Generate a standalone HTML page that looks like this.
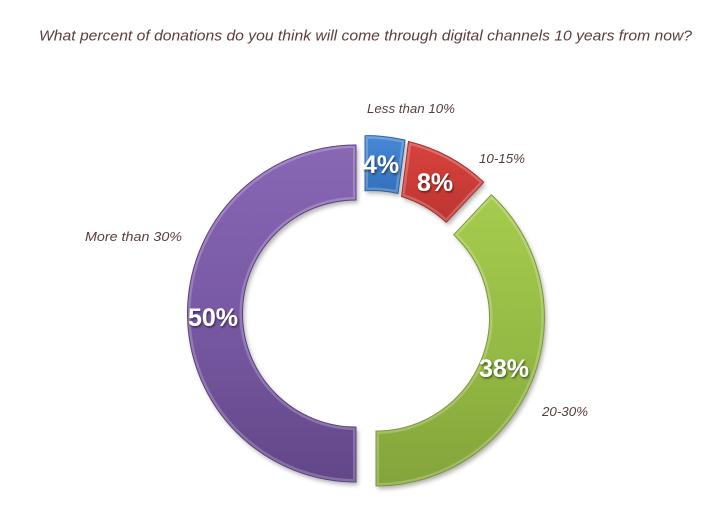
<!DOCTYPE html>
<html>
<head>
<meta charset="utf-8">
<style>
  html, body { margin:0; padding:0; background:#ffffff; }
  svg { display:block; }
</style>
</head>
<body>
<svg width="722" height="516" viewBox="0 0 722 516" xmlns="http://www.w3.org/2000/svg">
  <defs>
    <linearGradient id="gP" gradientUnits="userSpaceOnUse" x1="0" y1="145" x2="0" y2="482">
      <stop offset="0" stop-color="#8867b4"/>
      <stop offset="0.5" stop-color="#7859a4"/>
      <stop offset="1" stop-color="#624788"/>
    </linearGradient>
    <linearGradient id="gG" gradientUnits="userSpaceOnUse" x1="0" y1="195" x2="0" y2="486">
      <stop offset="0" stop-color="#a6cc4e"/>
      <stop offset="0.5" stop-color="#96bb45"/>
      <stop offset="1" stop-color="#83a43a"/>
    </linearGradient>
    <linearGradient id="gR" gradientUnits="userSpaceOnUse" x1="0" y1="141" x2="0" y2="222">
      <stop offset="0" stop-color="#d8443e"/>
      <stop offset="1" stop-color="#bc3430"/>
    </linearGradient>
    <linearGradient id="gB" gradientUnits="userSpaceOnUse" x1="0" y1="135" x2="0" y2="194">
      <stop offset="0" stop-color="#4888d6"/>
      <stop offset="1" stop-color="#3370bb"/>
    </linearGradient>
    <filter id="sh" x="-10%" y="-10%" width="130%" height="130%">
      <feDropShadow dx="2" dy="3" stdDeviation="2" flood-color="#000" flood-opacity="0.3"/>
    </filter>
    <filter id="ts" x="-20%" y="-20%" width="140%" height="140%">
      <feDropShadow dx="1" dy="1.5" stdDeviation="1" flood-color="#000" flood-opacity="0.55"/>
    </filter>
    <path id="pP" d="M356,482 A168.5,168.5 0 0 1 187.5,313.5 A168.5,168.5 0 0 1 356,145 L356,200 A113.5,113.5 0 0 0 242.5,313.5 A113.5,113.5 0 0 0 356,427 Z"/>
    <path id="pG" d="M491.3,194.7 A168.5,168.5 0 0 1 376,486 L376,431 A113.5,113.5 0 0 0 453.7,234.8 Z"/>
    <path id="pR" d="M408.5,141.5 A168.5,168.5 0 0 1 483.8,182.2 L446.2,222.3 A113.5,113.5 0 0 0 401.5,196.5 Z"/>
    <path id="pB" d="M365,135.7 A168.5,168.5 0 0 1 405,140 L398,193.5 A113.5,113.5 0 0 0 365,190.7 Z"/>
    <clipPath id="cP"><use href="#pP"/></clipPath>
    <clipPath id="cG"><use href="#pG"/></clipPath>
    <clipPath id="cR"><use href="#pR"/></clipPath>
    <clipPath id="cB"><use href="#pB"/></clipPath>
  </defs>

  <rect x="0" y="0" width="722" height="516" fill="#ffffff"/>

  <!-- Title -->
  <text x="39" y="40.5" font-family="Liberation Sans, sans-serif" font-style="italic" font-size="15" fill="#5b3d3d" textLength="653" lengthAdjust="spacingAndGlyphs">What percent of donations do you think will come through digital channels 10 years from now?</text>

  <!-- Segments -->
  <g filter="url(#sh)">
    <use href="#pP" fill="url(#gP)"/>
    <use href="#pG" fill="url(#gG)"/>
    <use href="#pR" fill="url(#gR)"/>
    <use href="#pB" fill="url(#gB)"/>
  </g>
  <!-- bevel highlights -->
  <g fill="none" stroke="#ffffff" stroke-opacity="0.22" stroke-width="6">
    <use href="#pP" clip-path="url(#cP)"/>
    <use href="#pG" clip-path="url(#cG)"/>
    <use href="#pR" clip-path="url(#cR)"/>
    <use href="#pB" clip-path="url(#cB)"/>
  </g>
  <g fill="none" stroke-width="1">
    <use href="#pP" stroke="#5a407e"/>
    <use href="#pG" stroke="#7a9833"/>
    <use href="#pR" stroke="#a02d2a"/>
    <use href="#pB" stroke="#2c62a6"/>
  </g>

  <!-- Percent labels -->
  <g font-family="Liberation Sans, sans-serif" font-weight="bold" font-size="25" fill="#ffffff" filter="url(#ts)">
    <text x="363" y="173">4%</text>
    <text x="417" y="191">8%</text>
    <text x="188" y="326">50%</text>
    <text x="479" y="377">38%</text>
  </g>

  <!-- Category labels -->
  <g font-family="Liberation Sans, sans-serif" font-style="italic" font-size="13" fill="#5b3d3d">
    <text x="367" y="113" textLength="88" lengthAdjust="spacingAndGlyphs">Less than 10%</text>
    <text x="479" y="163" textLength="46" lengthAdjust="spacingAndGlyphs">10-15%</text>
    <text x="85" y="241" textLength="97" lengthAdjust="spacingAndGlyphs">More than 30%</text>
    <text x="542" y="416" textLength="46" lengthAdjust="spacingAndGlyphs">20-30%</text>
  </g>
</svg>
</body>
</html>
